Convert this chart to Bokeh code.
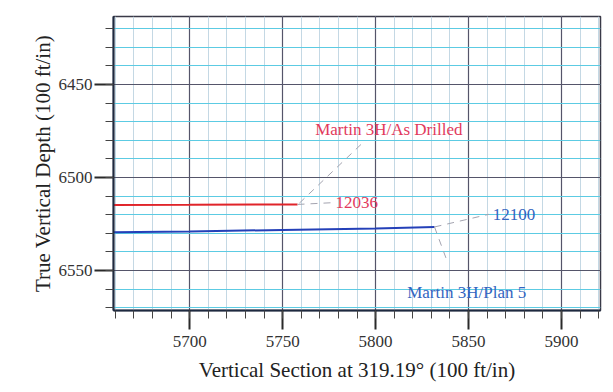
from bokeh.plotting import figure
from bokeh.models import Range1d, Label, FixedTicker
from bokeh.embed import file_html
from bokeh.resources import INLINE

# ---- data ----
asdrilled_vs = [5659, 5700, 5758]
asdrilled_tvd = [6514.8, 6514.7, 6514.5]
plan_vs = [5659, 5700, 5750, 5800, 5831.7]
plan_tvd = [6529.5, 6529.0, 6528.2, 6527.4, 6526.6]

ad_label = "Martin 3H/As Drilled"
ad_md = "12036"
pl_label = "Martin 3H/Plan 5"
pl_md = "12100"

ad_label_pos = (5767.5, 6474.0)
ad_md_pos = (5778.5, 6513.2)
pl_label_pos = (5817.0, 6561.8)
pl_md_pos = (5863.0, 6519.8)

ad_leader1_vs = [5758, 5776]
ad_leader1_tvd = [6514.5, 6513.6]
ad_leader2_vs = [5759, 5794]
ad_leader2_tvd = [6513.8, 6480.5]
pl_leader1_vs = [5831.7, 5861]
pl_leader1_tvd = [6526.6, 6519.8]
pl_leader2_vs = [5831.7, 5838.5]
pl_leader2_tvd = [6526.6, 6545.0]

x_major = [5650, 5700, 5750, 5800, 5850, 5900]
x_minor = list(range(5660, 5930, 10))
y_major = [6400, 6450, 6500, 6550]
y_minor = list(range(6410, 6580, 10))

x_start, x_end = 5659, 5921
y_top, y_bottom = 6413.5, 6571.5

SERIF = "Liberation Serif"

p = figure(width=605, height=384, output_backend="svg", toolbar_location=None,
           x_range=Range1d(x_start, x_end), y_range=Range1d(y_bottom, y_top),
           min_border_left=113, min_border_right=5, min_border_top=16, min_border_bottom=73)

p.background_fill_color = "white"
p.border_fill_color = "white"
p.outline_line_color = "#3a3a48"
p.outline_line_width = 1.5

p.xaxis[0].ticker = FixedTicker(ticks=x_major, minor_ticks=x_minor)
p.yaxis[0].ticker = FixedTicker(ticks=y_major, minor_ticks=y_minor)

for ax in (p.xaxis[0], p.yaxis[0]):
    ax.major_tick_out = 19
    ax.major_tick_in = 0
    ax.minor_tick_out = 8
    ax.minor_tick_in = 0
    ax.major_tick_line_width = 2
    ax.major_tick_line_color = "#2a2a2a"
    ax.minor_tick_line_color = "#444444"
    ax.axis_line_color = "#1e2a40"
    ax.axis_line_width = 2
    ax.major_label_text_font = SERIF
    ax.major_label_text_font_size = "17px"
    ax.major_label_text_color = "#333333"
    ax.axis_label_text_font = SERIF
    ax.axis_label_text_font_size = "21px"
    ax.axis_label_text_font_style = "normal"
    ax.axis_label_text_color = "#222222"

p.xaxis.axis_label = "Vertical Section at 319.19\u00b0 (100 ft/in)"
p.yaxis.axis_label = "True Vertical Depth (100 ft/in)"
p.xaxis.major_label_standoff = 6
p.xaxis.axis_label_standoff = 8
p.yaxis.major_label_standoff = 2
p.yaxis.axis_label_standoff = 1
p.yaxis.major_label_orientation = "horizontal"

p.xgrid.grid_line_color = "#55556a"
p.xgrid.grid_line_width = 1.2
p.ygrid.grid_line_color = "#55556a"
p.ygrid.grid_line_width = 1.2
p.xgrid.minor_grid_line_color = "#c4d8e4"
p.xgrid.minor_grid_line_width = 1
p.ygrid.minor_grid_line_color = "#5ccbe3"
p.ygrid.minor_grid_line_width = 1

# wellbore lines
p.line(asdrilled_vs, asdrilled_tvd, line_color="#e0242a", line_width=2)
p.line(plan_vs, plan_tvd, line_color="#2440b8", line_width=2)

# leaders
for xs, ys in ((ad_leader1_vs, ad_leader1_tvd), (ad_leader2_vs, ad_leader2_tvd),
               (pl_leader1_vs, pl_leader1_tvd), (pl_leader2_vs, pl_leader2_tvd)):
    p.line(xs, ys, line_color="#a4a4b0", line_width=1, line_dash="7 6")

# labels
p.add_layout(Label(x=ad_label_pos[0], y=ad_label_pos[1], text=ad_label,
                   text_font=SERIF, text_font_size="17px", text_color="#e23a5c",
                   text_baseline="middle"))
p.add_layout(Label(x=ad_md_pos[0], y=ad_md_pos[1], text=ad_md,
                   text_font=SERIF, text_font_size="17px", text_color="#e23a5c",
                   text_baseline="middle"))
p.add_layout(Label(x=pl_label_pos[0], y=pl_label_pos[1], text=pl_label,
                   text_font=SERIF, text_font_size="17px", text_color="#3264c0",
                   text_baseline="middle"))
p.add_layout(Label(x=pl_md_pos[0], y=pl_md_pos[1], text=pl_md,
                   text_font=SERIF, text_font_size="17px", text_color="#3264c0",
                   text_baseline="middle"))

open("out.html", "w").write(file_html(p, INLINE))
